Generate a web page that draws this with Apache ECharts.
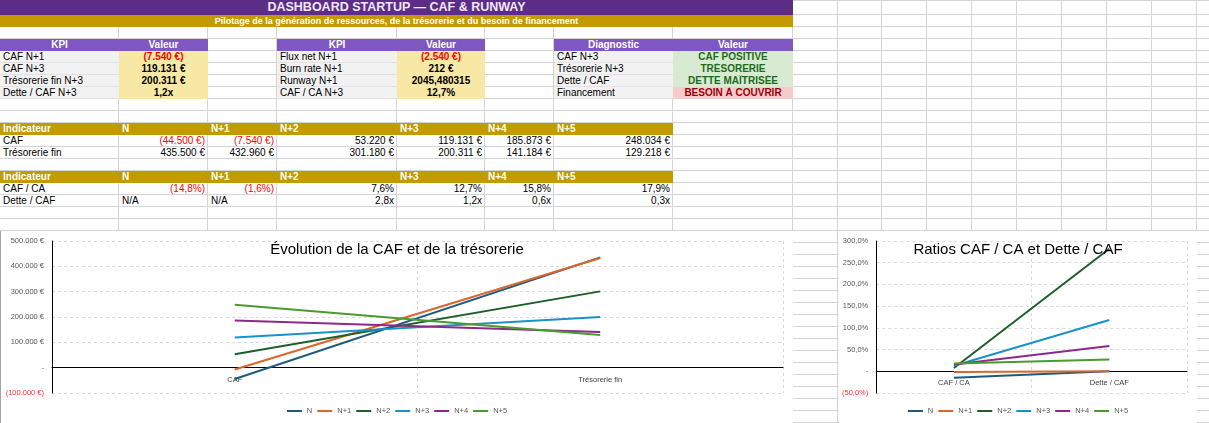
<!DOCTYPE html>
<html>
<head>
<meta charset="utf-8">
<script src="https://cdn.jsdelivr.net/npm/echarts@6/dist/echarts.min.js"></script>
<style>
  html, body { margin: 0; padding: 0; background: #fff; }
  #sheet { position: relative; width: 1209px; height: 423px; overflow: hidden; font-family: "Liberation Sans", Arial, sans-serif; }
  .gl { position: absolute; background: #d4d4d4; }
  .c { position: absolute; box-sizing: border-box; font-size: 10px; line-height: 12px; white-space: nowrap; overflow: visible; color: #000; }
  .chart { position: absolute; background: #fff; }
</style>
</head>
<body>
<div id="sheet">
  <div id="cafChart" class="chart" style="left:1px; top:231px; width:792px; height:192px;"></div>
  <div class="chart" style="left:0; top:231px; width:1px; height:192px; background:#a6a6a6;"></div>
  <div id="ratioChart" class="chart" style="left:839px; top:231px; width:358px; height:192px;"></div>
</div>
<script>
// ---- données ----
const years = ['N', 'N+1', 'N+2', 'N+3', 'N+4', 'N+5'];
const cafValues = [-44500, -7540, 53220, 119131, 185873, 248034];
const tresoValues = [435500, 432960, 301180, 200311, 141184, 129218];
const cafCaValues = [-14.8, -1.6, 7.6, 12.7, 15.8, 17.9];
const detteCafValues = [null, null, 2.82, 1.18, 0.58, 0.27];   // null = N/A

const cafCategories = ['CAF', 'Trésorerie fin'];
const ratioCategories = ['CAF / CA', 'Dette / CAF'];

const kpi1Labels = ['CAF N+1', 'CAF N+3', 'Trésorerie fin N+3', 'Dette / CAF N+3'];
const kpi1Values = ['(7.540 €)', '119.131 €', '200.311 €', '1,2x'];
const kpi2Labels = ['Flux net N+1', 'Burn rate N+1', 'Runway N+1', 'CAF / CA N+3'];
const kpi2Values = ['(2.540 €)', '212 €', '2045,480315', '12,7%'];
const diagLabels = ['CAF N+3', 'Trésorerie N+3', 'Dette / CAF', 'Financement'];
const diagValues = ['CAF POSITIVE', 'TRÉSORERIE', 'DETTE MAÎTRISÉE', 'BESOIN À COUVRIR'];
const diagOk = [true, true, true, false];

const seriesColors = ['#1f5a7a', '#d8662e', '#1d5e2a', '#1c91c8', '#8b2a8b', '#4a9a2f'];

// ---- grille du tableur ----
const colX = [0, 119, 208, 277, 397, 485, 554, 673, 793, 838, 882, 927, 972, 1017, 1062, 1107, 1152, 1197];
function rowTop(r) { return r === 1 ? 0 : r === 2 ? 15 : 27 + 12 * (r - 3); }

const sheet = document.getElementById('sheet');
function add(html) { sheet.insertAdjacentHTML('afterbegin', html); }

function cell(c0, c1, r, text, st) {
  const x0 = colX[c0], x1 = colX[c1];
  const y0 = rowTop(r), y1 = rowTop(r + 1);
  const el = document.createElement('div');
  el.className = 'c';
  el.style.left = x0 + 'px';
  el.style.top = y0 + 'px';
  el.style.width = (x1 - x0) + 'px';
  el.style.height = (y1 - y0) + 'px';
  el.style.lineHeight = (y1 - y0) + 'px';
  Object.assign(el.style, st || {});
  el.textContent = text;
  sheet.insertBefore(el, sheet.firstChild);
}

const neg = s => s.trim().startsWith('(');

// bandeau titre
cell(0, 8, 1, 'DASHBOARD STARTUP — CAF & RUNWAY', { background: '#5b2d86', color: '#f0e8f8', fontWeight: 'bold', fontSize: '12.5px', textAlign: 'center' });
cell(0, 8, 2, 'Pilotage de la génération de ressources, de la trésorerie et du besoin de financement', { background: '#c49a00', color: '#fff', fontWeight: 'bold', fontSize: '9px', textAlign: 'center' });

// tableaux KPI
const hdr = { background: '#7e57c2', color: '#fff', fontWeight: 'bold', textAlign: 'center' };
cell(0, 1, 4, 'KPI', hdr); cell(1, 2, 4, 'Valeur', hdr);
cell(3, 4, 4, 'KPI', hdr); cell(4, 5, 4, 'Valeur', hdr);
cell(6, 7, 4, 'Diagnostic', hdr); cell(7, 8, 4, 'Valeur', hdr);
const lab = { background: '#f2f2f2', paddingLeft: '3px', borderBottom: '1px solid #e2e2e2' };
const val = v => ({ background: '#f8e8a6', fontWeight: 'bold', textAlign: 'center', color: neg(v) ? '#ff0000' : '#000' });
for (let i = 0; i < 4; i++) {
  cell(0, 1, 5 + i, kpi1Labels[i], lab);
  cell(1, 2, 5 + i, kpi1Values[i], val(kpi1Values[i]));
  cell(3, 4, 5 + i, kpi2Labels[i], lab);
  cell(4, 5, 5 + i, kpi2Values[i], val(kpi2Values[i]));
  cell(6, 7, 5 + i, diagLabels[i], lab);
  cell(7, 8, 5 + i, diagValues[i], diagOk[i]
    ? { background: '#d9ead3', color: '#1e6b1e', fontWeight: 'bold', textAlign: 'center' }
    : { background: '#f4cccc', color: '#9c0006', fontWeight: 'bold', textAlign: 'center' });
}

// tableaux par année
function fmtEur(v) {
  const s = Math.abs(v).toString().replace(/\B(?=(\d{3})+(?!\d))/g, '.');
  return v < 0 ? '(' + s + ' €)' : s + ' €';
}
function fmtPct(v) {
  const s = Math.abs(v).toFixed(1).replace('.', ',') + '%';
  return v < 0 ? '(' + s + ')' : s;
}
function fmtX(v) { return v === null ? 'N/A' : v.toFixed(1).replace('.', ',') + 'x'; }

const gold = { background: '#c49a00', color: '#fff', fontWeight: 'bold', paddingLeft: '3px' };
function yearHeader(r) {
  cell(0, 1, r, 'Indicateur', gold);
  years.forEach((y, i) => cell(1 + i, 2 + i, r, y, gold));
}
function yearRow(r, label, texts) {
  cell(0, 1, r, label, { paddingLeft: '3px' });
  texts.forEach((t, i) => {
    const na = t === 'N/A';
    cell(1 + i, 2 + i, r, t, {
      textAlign: na ? 'left' : 'right',
      paddingLeft: na ? '3px' : '0',
      paddingRight: na ? '0' : '3px',
      color: neg(t) ? '#ff0000' : '#000'
    });
  });
}
yearHeader(11);
yearRow(12, 'CAF', cafValues.map(fmtEur));
yearRow(13, 'Trésorerie fin', tresoValues.map(fmtEur));
yearHeader(15);
yearRow(16, 'CAF / CA', cafCaValues.map(fmtPct));
yearRow(17, 'Dette / CAF', detteCafValues.map(fmtX));

// lignes de grille (tout en dessous)
for (let r = 1; r <= 36; r++) {
  add('<div class="gl" style="left:0;top:' + (rowTop(r) - (r === 1 ? 0 : 1)) + 'px;width:1209px;height:1px"></div>');
}
colX.slice(1).forEach(x => add('<div class="gl" style="left:' + (x - 1) + 'px;top:0;width:1px;height:423px"></div>'));

// ---- graphiques ----
const axisGrey = '#595959';
const dashed = { show: true, lineStyle: { color: '#d9d9d9', type: [3, 3], width: 1 } };
const gridTop = 10, gridBottom = 30, chartH = 192;

function baseOption(title, categories, yMin, yMax, yInterval, yFmt, gridLeft, series) {
  // l'axe des catégories croise à zéro, étiquettes comprises (comme Excel)
  const plotH = chartH - gridTop - gridBottom;
  const zeroOffset = -plotH * (0 - yMin) / (yMax - yMin);
  return {
    animation: false,
    title: {
      text: title, left: 'center', top: 6,
      textStyle: { fontFamily: 'Liberation Sans, Arial', fontSize: 15, fontWeight: 'normal', color: '#000' }
    },
    legend: {
      data: years, top: 171, left: 'center',
      icon: 'rect', itemWidth: 15, itemHeight: 2, itemGap: 5,
      textStyle: { fontSize: 7.5, color: axisGrey, fontFamily: 'Liberation Sans, Arial' }
    },
    grid: { left: gridLeft, right: 10, top: gridTop, bottom: gridBottom },
    xAxis: {
      type: 'category', data: categories, boundaryGap: true,
      position: 'bottom', offset: zeroOffset,
      axisLine: { onZero: false, lineStyle: { color: '#000', width: 1 } },
      axisTick: { show: false },
      axisLabel: { fontSize: 7.5, color: '#404040', fontFamily: 'Liberation Sans, Arial', margin: 8 },
      splitLine: dashed
    },
    yAxis: {
      type: 'value', min: yMin, max: yMax, interval: yInterval,
      axisLine: { show: true, lineStyle: { color: '#000', width: 1 } },
      axisTick: { show: false },
      axisLabel: {
        fontSize: 7.5, fontFamily: 'Liberation Sans, Arial', margin: 8,
        formatter: yFmt,
        color: v => (Number(v) < 0 ? '#ff3333' : axisGrey)
      },
      splitLine: dashed
    },
    series: series
  };
}

const cafSeries = years.map((y, i) => ({
  name: y, type: 'line', symbol: 'none',
  lineStyle: { width: 2, color: seriesColors[i] }, itemStyle: { color: seriesColors[i] },
  data: [cafValues[i], tresoValues[i]]
}));
const ratioSeries = years.map((y, i) => ({
  name: y, type: 'line', symbol: 'none',
  lineStyle: { width: 2, color: seriesColors[i] }, itemStyle: { color: seriesColors[i] },
  // Excel trace les "N/A" à zéro
  data: [cafCaValues[i], detteCafValues[i] === null ? 0 : detteCafValues[i] * 100]
}));

const cafChart = echarts.init(document.getElementById('cafChart'));
cafChart.setOption(baseOption('Évolution de la CAF et de la trésorerie', cafCategories,
  -100000, 500000, 100000,
  v => (v === 0 ? '-' : fmtEur(v)), 51, cafSeries));

const ratioChart = echarts.init(document.getElementById('ratioChart'));
ratioChart.setOption(baseOption('Ratios CAF / CA et Dette / CAF', ratioCategories,
  -50, 300, 50,
  v => (v === 0 ? '-' : fmtPct(v)), 37, ratioSeries));
</script>
</body>
</html>
